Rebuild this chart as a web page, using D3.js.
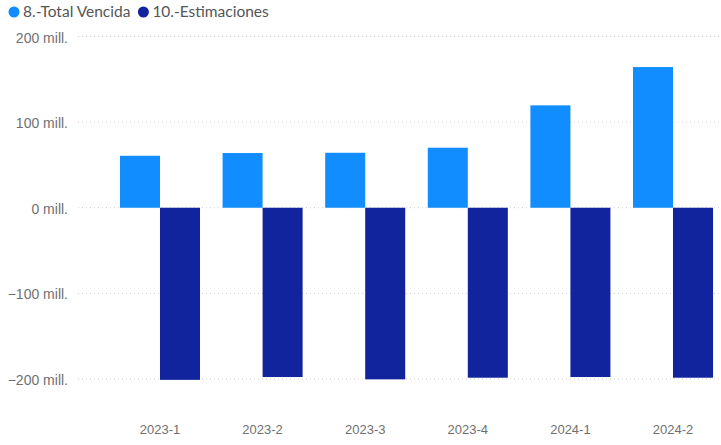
<!DOCTYPE html>
<html>
<head>
<meta charset="utf-8">
<script src="https://cdn.jsdelivr.net/npm/d3@7"></script>
<style>
  html, body { margin: 0; padding: 0; background: #fff; }
  svg { display: block; font-family: Lato, "Open Sans", sans-serif; }
</style>
</head>
<body>
<svg id="chart" width="721" height="445"></svg>
<script>
// Quarterly periods
const periods = ["2023-1", "2023-2", "2023-3", "2023-4", "2024-1", "2024-2"];
// Series values, in millions
const totalVencida = [60.7, 63.9, 64.2, 70.1, 119.6, 164.3];
const estimaciones = [-201, -197.7, -200.4, -198.5, -197.7, -198.5];
// Series names and y ticks
const seriesNames = ["8.-Total Vencida", "10.-Estimaciones"];
const yTicks = [-200, -100, 0, 100, 200];

const colors = ["#118DFF", "#12239E"];
const series = [totalVencida, estimaciones];

const svg = d3.select("#chart");

const x = d3.scaleBand()
  .domain(periods)
  .range([111, 722])
  .paddingInner(0.22)
  .paddingOuter(0.0875);

const xInner = d3.scaleBand()
  .domain(d3.range(series.length))
  .range([0, x.bandwidth()]);

const y = d3.scaleLinear()
  .domain([-200, 200])
  .range([379, 36.5]);

// Gridlines and y labels
const yAxis = d3.axisLeft(y)
  .tickValues(yTicks)
  .tickSize(0)
  .tickPadding(0)
  .tickFormat(d => d3.format("d")(d) + " mill.");

const yg = svg.append("g").attr("transform", "translate(70,0)").call(yAxis);
yg.select(".domain").remove();
yg.selectAll("text")
  .attr("fill", "#707070")
  .style("font-size", "14px")
  .attr("x", -2)
  .attr("dy", "0.4em");

svg.append("g").selectAll("line")
  .data(yTicks)
  .join("line")
  .attr("x1", 78).attr("x2", 721)
  .attr("y1", d => y(d)).attr("y2", d => y(d))
  .attr("stroke", "#cfcfcf")
  .attr("stroke-width", 1)
  .attr("stroke-dasharray", "1,3");

// Bars
series.forEach((vals, si) => {
  svg.append("g").selectAll("rect")
    .data(vals)
    .join("rect")
    .attr("x", (d, i) => x(periods[i]) + xInner(si))
    .attr("width", xInner.bandwidth())
    .attr("y", d => y(Math.max(0, d)))
    .attr("height", d => Math.abs(y(d) - y(0)))
    .attr("fill", colors[si]);
});

// X axis labels
const xAxis = d3.axisBottom(x).tickSize(0).tickPadding(0);
const xg = svg.append("g").attr("transform", "translate(0,425)").call(xAxis);
xg.select(".domain").remove();
xg.selectAll("text")
  .attr("fill", "#707070")
  .style("font-size", "13px");

// Legend
const legend = svg.append("g").attr("transform", "translate(0,12)");
let lx = 14;
seriesNames.forEach((name, i) => {
  legend.append("circle").attr("cx", lx).attr("cy", 0).attr("r", 5.5).attr("fill", colors[i]);
  const t = legend.append("text")
    .attr("x", lx + 9).attr("y", 0)
    .attr("dy", "0.35em")
    .attr("fill", "#555")
    .style("font-size", "15.5px")
    .text(name);
  lx += 9 + t.node().getComputedTextLength() + 13;
});
</script>
</body>
</html>
